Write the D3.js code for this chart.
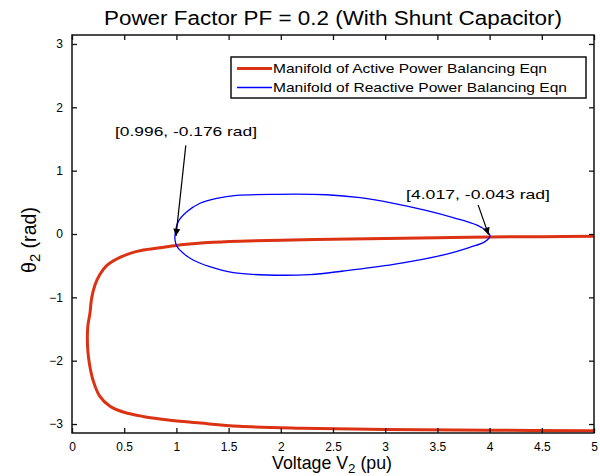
<!DOCTYPE html>
<html>
<head>
<meta charset="utf-8">
<script src="https://cdn.jsdelivr.net/npm/d3@7"></script>
<style>
  body { margin: 0; background: #fff; }
  svg { font-family: "Liberation Sans", Arial, sans-serif; }
</style>
</head>
<body>
<svg width="600" height="476"></svg>
<script>
// values
var xTicks = [0, 0.5, 1, 1.5, 2, 2.5, 3, 3.5, 4, 4.5, 5];
var yTicks = [-3, -2, -1, 0, 1, 2, 3];

// manifold of active power balancing eqn [V2, theta2]
var activeCurve = [
  [5.0, -0.036], [4.5, -0.042], [4.0, -0.047], [3.5, -0.058], [3.0, -0.07],
  [2.5, -0.083], [2.0, -0.097], [1.6, -0.113], [1.3, -0.135], [1.15, -0.155],
  [1.0, -0.18], [0.843, -0.216], [0.683, -0.253], [0.556, -0.305], [0.428, -0.395],
  [0.332, -0.50], [0.268, -0.636], [0.22, -0.805], [0.188, -1.015], [0.172, -1.25],
  [0.152, -1.45], [0.147, -1.65], [0.152, -1.85], [0.168, -2.06], [0.2, -2.30],
  [0.265, -2.56], [0.364, -2.72], [0.49, -2.81], [0.68, -2.88], [0.94, -2.94],
  [1.23, -2.985], [1.6, -3.035], [2.2, -3.065], [3.0, -3.085], [4.0, -3.098],
  [5.0, -3.105]
];

// manifold of reactive power balancing eqn (closed loop)
var reactiveCurve = [
  [0.987, -0.016], [1.018, 0.195], [1.10, 0.35], [1.226, 0.485], [1.386, 0.563],
  [1.578, 0.61], [1.96, 0.627], [2.44, 0.62], [2.76, 0.573], [3.08, 0.485],
  [3.40, 0.37], [3.65, 0.26], [3.88, 0.14], [3.97, 0.05], [4.004, -0.03],
  [3.956, -0.12], [3.81, -0.21], [3.56, -0.33], [3.08, -0.48], [2.60, -0.584],
  [2.28, -0.64], [1.865, -0.647], [1.545, -0.61], [1.32, -0.515], [1.16, -0.41],
  [1.066, -0.305], [1.003, -0.19], [0.987, -0.095]
];

var legendLabels = ["Manifold of Active Power Balancing Eqn", "Manifold of Reactive Power Balancing Eqn"];

// annotation text, point it marks, where the arrow starts (data units)
var notes = [
  {text: "[0.996, -0.176 rad]", at: [0.996, -0.03], from: [1.09, 1.4]},
  {text: "[4.017, -0.043 rad]", at: [3.99, -0.01], from: [3.89, 0.46]}
];

const color = {
  "active": "#dc3214",
  "reactive": "#0000ff",
  "axis": "#111"
};

var svg = d3.select("svg"),
  width = +svg.attr("width"),
  height = +svg.attr("height");

var box = {left: 72, right: 594, top: 35, bottom: 433};

var x = d3.scaleLinear().domain([0, 5]).range([box.left, box.right]);
var y = d3.scaleLinear().domain([-Math.PI, Math.PI]).range([box.bottom, box.top]);

svg.append("defs").append("clipPath")
  .attr("id", "plot-clip")
  .append("rect")
  .attr("x", box.left).attr("y", box.top)
  .attr("width", box.right - box.left).attr("height", box.bottom - box.top);

svg.select("defs").append("marker")
  .attr("id", "arrowhead")
  .attr("viewBox", "0 0 10 10")
  .attr("refX", 10).attr("refY", 5)
  .attr("markerWidth", 9).attr("markerHeight", 7)
  .attr("markerUnits", "userSpaceOnUse")
  .attr("orient", "auto")
  .append("path")
  .attr("d", "M0,0 L10,5 L0,10 z")
  .attr("fill", "#000");

// fit a text's font size so it spans the given width
function fitText(sel, w) {
  var fs = parseFloat(sel.attr("font-size"));
  var len = sel.node().getComputedTextLength();
  sel.attr("font-size", (fs * w / len).toFixed(2));
}

// curves
var lineGen = d3.line()
  .x(function(d) { return x(d[0]); })
  .y(function(d) { return y(d[1]); });

var curves = svg.append("g").attr("clip-path", "url(#plot-clip)");

curves.append("path")
  .attr("d", lineGen.curve(d3.curveCatmullRom.alpha(0.5))(activeCurve))
  .attr("fill", "none")
  .attr("stroke", color["active"])
  .attr("stroke-width", 3)
  .attr("stroke-linejoin", "round");

curves.append("path")
  .attr("d", lineGen.curve(d3.curveCatmullRomClosed.alpha(0.5))(reactiveCurve))
  .attr("fill", "none")
  .attr("stroke", color["reactive"])
  .attr("stroke-width", 1.3);

// axes, ticks inside on all four sides
var axes = svg.append("g").attr("class", "axes");

axes.append("g")
  .attr("transform", "translate(0," + box.bottom + ")")
  .call(d3.axisBottom(x).tickValues(xTicks).tickSizeInner(-5).tickSizeOuter(0)
    .tickPadding(9).tickFormat(d3.format("")));
axes.append("g")
  .attr("transform", "translate(0," + box.top + ")")
  .call(d3.axisTop(x).tickValues(xTicks).tickSizeInner(-5).tickSizeOuter(0).tickFormat(""));
axes.append("g")
  .attr("transform", "translate(" + box.left + ",0)")
  .call(d3.axisLeft(y).tickValues(yTicks).tickSizeInner(-5).tickSizeOuter(0)
    .tickPadding(9).tickFormat(d3.format("")));
axes.append("g")
  .attr("transform", "translate(" + box.right + ",0)")
  .call(d3.axisRight(y).tickValues(yTicks).tickSizeInner(-5).tickSizeOuter(0).tickFormat(""));

axes.selectAll(".domain").remove();
axes.selectAll(".tick line").attr("stroke", color["axis"]).attr("stroke-width", 1.3);
axes.selectAll(".tick text")
  .attr("font-family", "'Liberation Sans', Arial, sans-serif")
  .attr("font-size", 12)
  .attr("fill", "#000");

axes.append("rect")
  .attr("x", box.left).attr("y", box.top)
  .attr("width", box.right - box.left).attr("height", box.bottom - box.top)
  .attr("fill", "none")
  .attr("stroke", color["axis"])
  .attr("stroke-width", 1.5);

// annotations
var note = svg.append("g").attr("class", "notes");
notes.forEach(function(n, i) {
  note.append("line")
    .attr("x1", x(n.from[0])).attr("y1", y(n.from[1]))
    .attr("x2", x(n.at[0])).attr("y2", y(n.at[1]))
    .attr("stroke", "#000")
    .attr("stroke-width", 1.2)
    .attr("marker-end", "url(#arrowhead)");
});
note.append("text")
  .attr("x", 115).attr("y", 136)
  .attr("font-size", 13)
  .attr("textLength", 142).attr("lengthAdjust", "spacingAndGlyphs")
  .text(notes[0].text);
note.append("text")
  .attr("x", 406).attr("y", 199)
  .attr("font-size", 13)
  .attr("textLength", 144).attr("lengthAdjust", "spacingAndGlyphs")
  .text(notes[1].text);

// legend
var legend = svg.append("g").attr("class", "legend");
legend.append("rect")
  .attr("x", 231).attr("y", 57)
  .attr("width", 355).attr("height", 41)
  .attr("fill", "#fff")
  .attr("stroke", color["axis"])
  .attr("stroke-width", 1.5);

var legendColors = [color["active"], color["reactive"]];
var legendWidths = [3, 1.3];
var legendTextLen = [274, 294];
legendLabels.forEach(function(label, i) {
  var ly = 68.5 + i * 19;
  legend.append("line")
    .attr("x1", 237).attr("x2", 272)
    .attr("y1", ly).attr("y2", ly)
    .attr("stroke", legendColors[i])
    .attr("stroke-width", legendWidths[i]);
  legend.append("text")
    .attr("x", 273).attr("y", ly + 4.5)
    .attr("font-size", 13)
    .attr("textLength", legendTextLen[i]).attr("lengthAdjust", "spacingAndGlyphs")
    .text(label);
});

// title and axis labels
svg.append("text")
  .attr("x", (box.left + box.right) / 2).attr("y", 25)
  .attr("text-anchor", "middle")
  .attr("font-size", 20)
  .attr("textLength", 458).attr("lengthAdjust", "spacingAndGlyphs")
  .text("Power Factor PF = 0.2 (With Shunt Capacitor)");

var xLabel = svg.append("text")
  .attr("x", 332).attr("y", 469)
  .attr("text-anchor", "middle")
  .attr("font-size", 15);
xLabel.append("tspan").text("Voltage V");
xLabel.append("tspan").attr("dy", 4).attr("font-size", "0.75em").text("2");
xLabel.append("tspan").attr("dy", -4).text(" (pu)");
fitText(xLabel, 120);

var yLabel = svg.append("text")
  .attr("transform", "translate(36,240) rotate(-90)")
  .attr("text-anchor", "middle")
  .attr("font-size", 13);
yLabel.append("tspan").text("\u03b8");
yLabel.append("tspan").attr("dy", 4).attr("font-size", "0.75em").text("2");
yLabel.append("tspan").attr("dy", -4).text(" (rad)");
fitText(yLabel, 66);
</script>
</body>
</html>
